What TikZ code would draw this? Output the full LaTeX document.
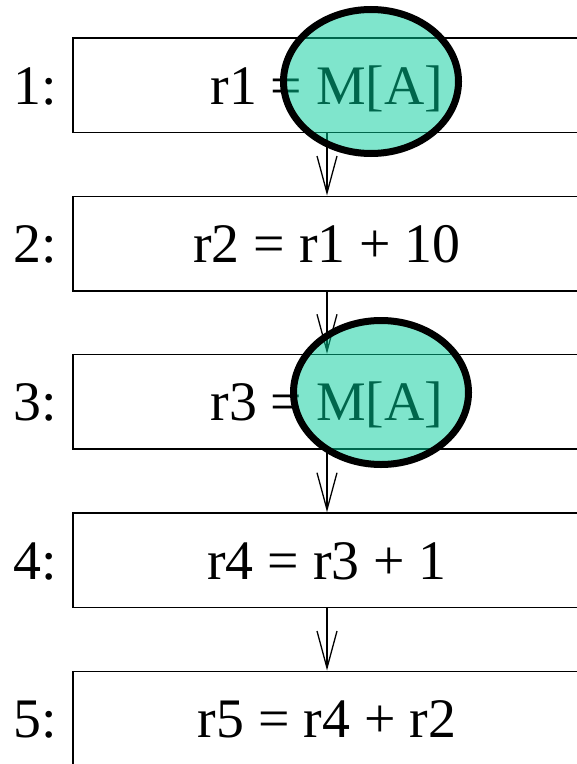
\documentclass[tikz,border=0pt]{standalone}
\usepackage{fontspec}
\setmainfont{Liberation Serif}
\usetikzlibrary{arrows.meta,shapes.geometric}
\definecolor{blobfill}{RGB}{0,204,153}
\begin{document}
\begin{tikzpicture}[x=1bp,y=-1bp,
  box/.style={draw=black, line width=1.5bp, minimum width=508bp, minimum height=94.5bp,
    inner sep=0pt, text height=38bp, text depth=0bp, font=\fontsize{56}{60}\selectfont},
  lab/.style={anchor=base east, inner sep=0pt, font=\fontsize{56}{60}\selectfont},
  arr/.style={line width=1.3bp, -{Straight Barb[length=37bp,width=20bp]}},
  blob/.style={ellipse, draw=black, line width=7bp, fill=blobfill, fill opacity=0.5,
    draw opacity=1, minimum width=175bp, minimum height=144bp, inner sep=0pt}]
\useasboundingbox (0,0) rectangle (577,764);
\clip (0,0) rectangle (577,764);
\node[box] (b1) at (327,85.2) {r1 = M[A]};
\node[box] (b2) at (327,243.5) {r2 = r1 + 10};
\node[box] (b3) at (327,401.8) {r3 = M[A]};
\node[box] (b4) at (327,560.2) {r4 = r3 + 1};
\node[box] (b5) at (327,718.5) {r5 = r4 + r2};
\node[lab] (l1) at (57,104.2) {1:};
\node[lab] (l2) at (57,262.5) {2:};
\node[lab] (l3) at (57,420.8) {3:};
\node[lab] (l4) at (57,579.2) {4:};
\node[lab] (l5) at (57,737.5) {5:};
\draw[arr] (b1.south) -- (b2.north);
\draw[arr] (b2.south) -- (b3.north);
\draw[arr] (b3.south) -- (b4.north);
\draw[arr] (b4.south) -- (b5.north);
\node[blob] (e1) at (371,81.5) {};
\node[blob] (e2) at (381,392.5) {};
\end{tikzpicture}
\end{document}
